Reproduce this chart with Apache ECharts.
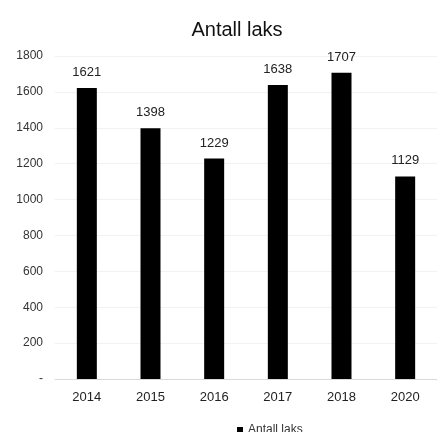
<!DOCTYPE html>
<html>
<head>
<meta charset="utf-8">
<style>
html,body{margin:0;padding:0;background:#fff;}
#chart{width:437px;height:432px;}
</style>
<script src="https://cdn.jsdelivr.net/npm/echarts@6/dist/echarts.min.js"></script>
</head>
<body>
<div id="chart"></div>
<script>
const title = 'Antall laks';
const seriesName = 'Antall laks';
const categories = ['2014', '2015', '2016', '2017', '2018', '2020'];
const values = [1621, 1398, 1229, 1638, 1707, 1129];
const yTicks = [0, 200, 400, 600, 800, 1000, 1200, 1400, 1600, 1800];

const chart = echarts.init(document.getElementById('chart'));
chart.setOption({
  animation: false,
  backgroundColor: '#ffffff',
  textStyle: {fontFamily: 'Liberation Sans'},
  title: {
    text: title,
    left: 232, top: 15, textAlign: 'center',
    textStyle: {fontSize: 20, fontWeight: 'normal', color: '#111', fontFamily: 'Liberation Sans'}
  },
  legend: {
    data: [seriesName],
    left: 232, top: 419, textAlign: 'center',
    icon: 'rect', itemWidth: 6, itemHeight: 6, itemGap: 4,
    textStyle: {fontSize: 12, color: '#333'}
  },
  grid: {left: 55, top: 56, width: 396, height: 323, containLabel: false},
  xAxis: {
    type: 'category',
    data: categories,
    axisLine: {lineStyle: {color: '#d9d9d9'}},
    axisTick: {show: false},
    axisLabel: {fontSize: 13, color: '#222', margin: 12}
  },
  yAxis: {
    type: 'value',
    min: yTicks[0], max: yTicks[yTicks.length - 1], interval: 200,
    axisLine: {show: false},
    axisTick: {show: false},
    splitLine: {show: true, lineStyle: {color: '#f2f2f2'}},
    axisLabel: {
      fontSize: 12, color: '#333', margin: 12,
      formatter: v => v === 0 ? '-' : String(v)
    }
  },
  series: [{
    name: seriesName,
    type: 'bar',
    data: values,
    barWidth: 20,
    itemStyle: {color: '#000000'},
    label: {show: true, position: 'top', distance: 9, fontSize: 13, color: '#222'}
  }]
});
</script>
</body>
</html>
